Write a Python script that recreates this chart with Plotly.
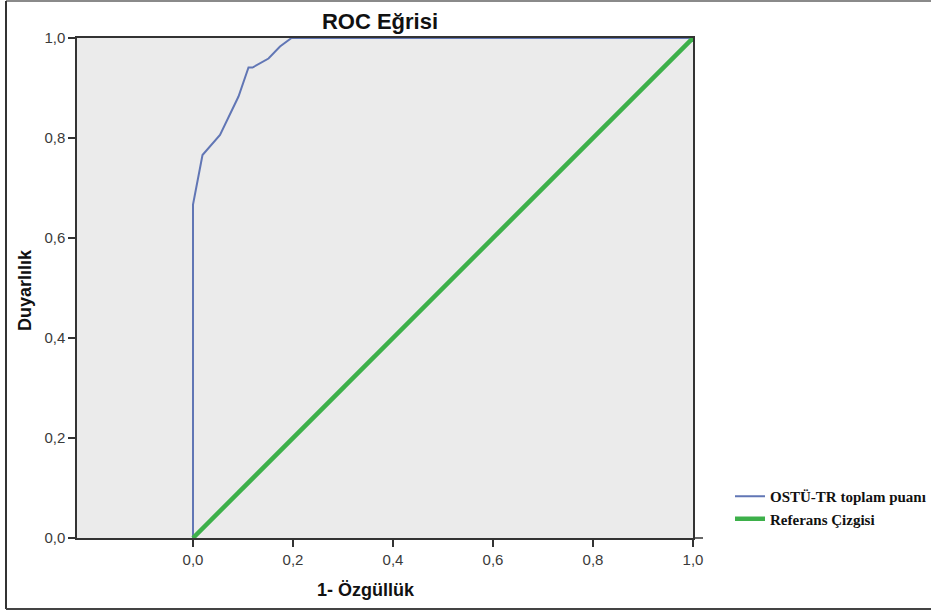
import plotly.graph_objects as go

# ROC curve data
fpr = [0.0, 0.0, 0.019, 0.054, 0.091, 0.111, 0.119, 0.151, 0.174, 0.197, 1.0]
tpr = [0.0, 0.667, 0.766, 0.806, 0.883, 0.941, 0.941, 0.959, 0.983, 1.0, 1.0]
ref_x = [0.0, 1.0]
ref_y = [0.0, 1.0]

tick_vals = [0.0, 0.2, 0.4, 0.6, 0.8, 1.0]
tick_text = ["0,0", "0,2", "0,4", "0,6", "0,8", "1,0"]

series_names = ["OSTÜ-TR toplam puanı", "Referans Çizgisi"]

W, H = 931, 612
L, R, T, B = 77, 693, 38, 538
pw, ph = R - L, B - T

def px_x(x):
    return (x - L) / pw

def px_y(y):
    return (B - y) / ph

fig = go.Figure()
fig.add_trace(go.Scatter(x=fpr, y=tpr, mode="lines", name="<b>" + series_names[0] + "</b>",
                         line=dict(color="#6176b5", width=2)))
fig.add_trace(go.Scatter(x=ref_x, y=ref_y, mode="lines", name="<b>" + series_names[1] + "</b>",
                         line=dict(color="#3db04a", width=4.5)))

axis_common = dict(showgrid=False, zeroline=False, showline=True, linecolor="#333333",
                   linewidth=1.5, ticks="outside", ticklen=7, tickcolor="#333333",
                   tickwidth=1.5, tickvals=tick_vals, ticktext=tick_text,
                   tickfont=dict(family="Liberation Sans, Arial", size=15, color="#3a3a3a"))

fig.update_layout(
    width=W, height=H,
    margin=dict(l=L, r=W - R, t=T, b=H - B, pad=0, autoexpand=False),
    paper_bgcolor="white",
    plot_bgcolor="#ebebeb",
    showlegend=True,
    legend=dict(x=px_x(730), y=px_y(480), xanchor="left", yanchor="top",
                bgcolor="rgba(0,0,0,0)", borderwidth=0, tracegroupgap=0,
                font=dict(family="Liberation Serif, Times New Roman", size=15, color="#111111"),
                itemclick=False),
    title=dict(text="<b>ROC Eğrisi</b>", x=380 / W, xref="container", xanchor="center",
               y=1 - 21 / H, yref="container", yanchor="middle",
               font=dict(family="Liberation Sans, Arial", size=22, color="#111111")),
    xaxis=dict(range=[-0.232, 1.0], mirror=True, automargin=False, **axis_common),
    yaxis=dict(range=[0.0, 1.0], mirror=True, automargin=False, **axis_common),
)

# axis titles
fig.add_annotation(text="<b>1- Özgüllük</b>", xref="paper", yref="paper",
                   x=px_x(366), y=px_y(590), xanchor="center", yanchor="middle",
                   showarrow=False, font=dict(family="Liberation Sans, Arial", size=18, color="#111111"))
fig.add_annotation(text="<b>Duyarlılık</b>", xref="paper", yref="paper",
                   x=px_x(25), y=px_y(290), xanchor="center", yanchor="middle", textangle=-90,
                   showarrow=False, font=dict(family="Liberation Sans, Arial", size=18, color="#111111"))

# x-axis line extension past the plot area
fig.add_shape(type="line", xref="paper", yref="paper", x0=1.0, x1=px_x(703), y0=0, y1=0,
              line=dict(color="#333333", width=1.5))

# outer frame (top, left, bottom)
fig.add_shape(type="line", xref="paper", yref="paper", x0=px_x(6), x1=px_x(931), y0=px_y(1), y1=px_y(1),
              line=dict(color="#8a8a8a", width=2))
fig.add_shape(type="line", xref="paper", yref="paper", x0=px_x(6), x1=px_x(6), y0=px_y(1), y1=px_y(609),
              line=dict(color="#333333", width=2))
fig.add_shape(type="line", xref="paper", yref="paper", x0=px_x(6), x1=px_x(931), y0=px_y(609), y1=px_y(609),
              line=dict(color="#444444", width=2))

fig.write_html("out.html", config={"displayModeBar": False},
               post_script="document.body.style.margin='0';document.body.style.overflow='hidden';"
                           "document.documentElement.style.overflow='hidden';")
